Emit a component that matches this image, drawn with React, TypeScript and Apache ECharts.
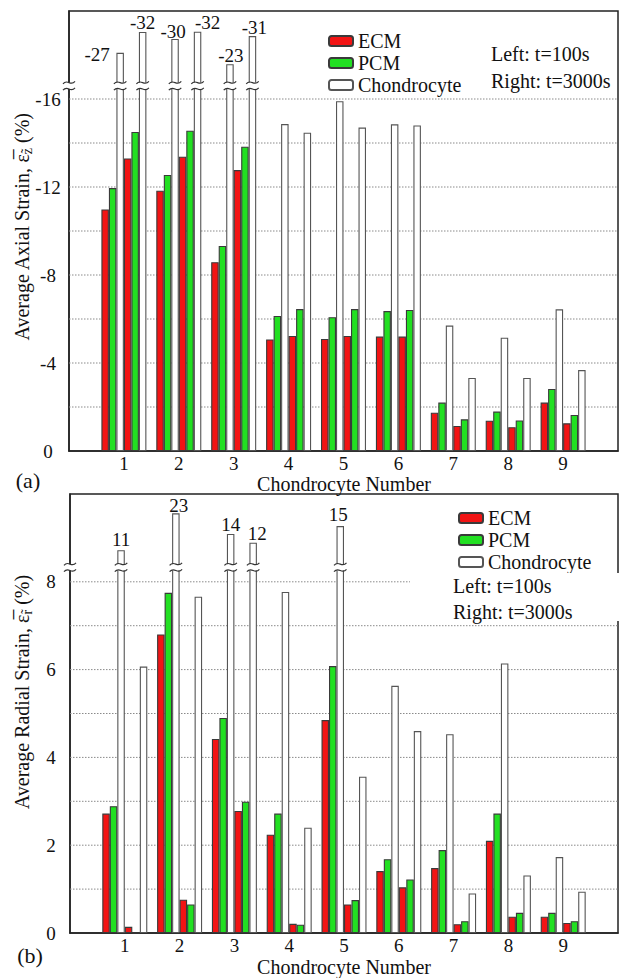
import React, { useEffect, useRef } from 'react';
import * as echarts from 'echarts';

// ---------- data ----------
const categories = [1, 2, 3, 4, 5, 6, 7, 8, 9];
const seriesNames = ['ECM', 'PCM', 'Chondrocyte'];

// (a) Average axial strain (%) — left bars t=100s, right bars t=3000s
const axialECM100 = [-10.98, -11.83, -8.58, -5.07, -5.09, -5.2, -1.74, -1.38, -2.2];
const axialPCM100 = [-11.95, -12.55, -9.32, -6.14, -6.08, -6.36, -2.2, -1.79, -2.82];
const axialChondro100 = [-27, -30, -23, -14.86, -15.9, -14.85, -5.7, -5.15, -6.44];
const axialECM3000 = [-13.3, -13.38, -12.77, -5.23, -5.23, -5.2, -1.14, -1.08, -1.26];
const axialPCM3000 = [-14.5, -14.56, -13.83, -6.45, -6.45, -6.41, -1.44, -1.39, -1.64];
const axialChondro3000 = [-32, -32, -31, -14.47, -14.7, -14.8, -3.32, -3.32, -3.68];
// heights at which the broken (off-scale) bars are drawn, on the axis scale
const axialChondro100Drawn = [-18.1, -18.73, -17.58, null, null, null, null, null, null];
const axialChondro3000Drawn = [-19.05, -19.06, -18.86, null, null, null, null, null, null];
const axialTickLabels = [0, -4, -8, -12, -16];
const axialGridValues = [-2, -4, -6, -8, -10, -12, -14, -16];
const axialBreakAt = -16.6;

// (b) Average radial strain (%)
const radialECM100 = [2.72, 6.8, 4.42, 2.24, 4.85, 1.41, 1.48, 2.1, 0.37];
const radialPCM100 = [2.89, 7.75, 4.9, 2.72, 6.08, 1.68, 1.89, 2.72, 0.46];
const radialChondro100 = [11, 23, 14, 7.77, 15, 5.63, 4.53, 6.14, 1.73];
const radialECM3000 = [0.14, 0.76, 2.78, 0.21, 0.65, 1.04, 0.2, 0.37, 0.23];
const radialPCM3000 = [0, 0.65, 2.99, 0.19, 0.75, 1.22, 0.27, 0.46, 0.27];
const radialChondro3000 = [6.07, 7.66, 12, 2.4, 3.56, 4.6, 0.9, 1.31, 0.94];
const radialChondro100Drawn = [8.72, 9.56, 9.09, null, 9.27, null, null, null, null];
const radialChondro3000Drawn = [null, null, 8.89, null, null, null, null, null, null];
const radialTickLabels = [0, 2, 4, 6, 8];
const radialGridValues = [1, 2, 3, 4, 5, 6, 7, 8];
const radialBreakAt = 8.33;

// ---------- styles ----------
const FONT = '"Liberation Serif", "Times New Roman", serif';
const BW = 7.5;
const X_MAX = 10;
const RED = '#f21414';
const GREEN = '#22e022';
const WHITE = '#ffffff';
const EDGE = '#3a3a3a';
const WHITE_EDGE = '#555555';
const TICK_FS = 19;
const TEXT_FS = 20;

// label nudges for the broken-bar value labels (pixels)
const axialOff100: Record<number, number[]> = { 0: [-23, 14], 1: [-2, 5], 2: [1, 4] };
const axialOff3000: Record<number, number[]> = { 0: [0, 3], 1: [10, 3], 2: [2, 4] };
const radialOff100: Record<number, number[]> = { 0: [0, 2], 1: [3, 5], 2: [0, 3], 4: [-2, 1] };
const radialOff3000: Record<number, number[]> = { 2: [4, 3] };

function barSeries(
  name: string,
  values: number[],
  drawn: (number | null)[] | null,
  color: string,
  border: string,
  grid: number,
  offsets: Record<number, number[]>
) {
  return {
    type: 'bar',
    name,
    xAxisIndex: grid,
    yAxisIndex: grid,
    barWidth: BW,
    barGap: '0%',
    z: 2,
    itemStyle: { color, borderColor: border, borderWidth: 1.1 },
    data: categories.map((c, i) => {
      const d = drawn ? drawn[i] : null;
      if (d == null) return [c, values[i]];
      return {
        value: [c, d],
        label: {
          show: true,
          position: 'top',
          distance: 3,
          formatter: String(values[i]),
          offset: offsets[i] || [0, 0],
          fontSize: TICK_FS,
          fontFamily: FONT,
          color: '#111',
        },
      };
    }),
  };
}

function gridLineSeries(grid: number, values: number[]) {
  return {
    type: 'custom',
    xAxisIndex: grid,
    yAxisIndex: grid,
    z: 1,
    silent: true,
    data: values.map((v) => [0, v]),
    renderItem: (_p: any, api: any) => {
      const a = api.coord([0, api.value(1)]);
      const b = api.coord([X_MAX, api.value(1)]);
      return {
        type: 'line',
        shape: { x1: a[0], y1: a[1], x2: b[0], y2: b[1] },
        style: { stroke: '#8a8a8a', lineWidth: 1, lineDash: [1.5, 1.5] },
      };
    },
  };
}

function breakSeries(grid: number, breakAt: number, d100: (number | null)[], d3000: (number | null)[]) {
  const items: number[][] = [[0, breakAt, -1]];
  categories.forEach((c, i) => {
    if (d100[i] != null) items.push([c, breakAt, 2]);
    if (d3000[i] != null) items.push([c, breakAt, 5]);
  });
  return {
    type: 'custom',
    xAxisIndex: grid,
    yAxisIndex: grid,
    z: 3,
    silent: true,
    data: items,
    renderItem: (_p: any, api: any) => {
      const slot = api.value(2);
      const p = api.coord([api.value(0), api.value(1)]);
      const isAxis = slot < 0;
      const cx = isAxis ? p[0] : p[0] + (slot - 2.5) * BW;
      const hw = isAxis ? 4.5 : BW / 2 + 1;
      const gap = 3.2;
      const curves = [-gap, gap].map((dy) => ({
        type: 'bezierCurve',
        shape: {
          x1: cx - hw - 1.5,
          y1: p[1] + dy + 1.2,
          cpx1: cx - hw * 0.3,
          cpy1: p[1] + dy - 4.5,
          cpx2: cx + hw * 0.3,
          cpy2: p[1] + dy + 4.5,
          x2: cx + hw + 1.5,
          y2: p[1] + dy - 1.2,
        },
        style: { stroke: '#333', lineWidth: 1.2, fill: null },
      }));
      return {
        type: 'group',
        children: [
          {
            type: 'rect',
            shape: { x: cx - hw - 1, y: p[1] - gap, width: 2 * hw + 2, height: 2 * gap },
            style: { fill: '#fff' },
          },
          ...curves,
        ],
      };
    },
  };
}

function xAxisFor(grid: number) {
  return {
    type: 'value',
    gridIndex: grid,
    min: 0,
    max: X_MAX,
    interval: 1,
    axisLine: { show: true, onZero: false, lineStyle: { color: '#222', width: 1.5 } },
    axisTick: { show: false },
    splitLine: { show: false },
    axisLabel: {
      formatter: (v: number) => (categories.includes(v) ? String(v) : ''),
      fontSize: TICK_FS,
      fontFamily: FONT,
      color: '#111',
      margin: 3,
    },
  };
}

function yAxisFor(grid: number, min: number, max: number, interval: number, inverse: boolean, labels: number[], margin: number) {
  return {
    type: 'value',
    gridIndex: grid,
    min,
    max,
    interval,
    inverse,
    axisLine: { show: true, onZero: false, lineStyle: { color: '#222', width: 1.5 } },
    axisTick: { show: false },
    splitLine: { show: false },
    axisLabel: {
      formatter: (v: number) => (labels.includes(v) ? String(v) : ''),
      fontSize: TICK_FS,
      fontFamily: FONT,
      color: '#111',
      align: 'center',
      margin,
    },
  };
}

const legendBase = {
  data: seriesNames,
  orient: 'vertical',
  itemWidth: 24,
  itemHeight: 10,
  itemGap: 2,
  icon: 'roundRect',
  selectedMode: false,
  textStyle: { fontSize: TEXT_FS, fontFamily: FONT, color: '#111' },
};

function txt(text: string, x: number, y: number, size = TEXT_FS, align = 'left', z = 6) {
  return {
    type: 'text',
    x,
    y,
    z,
    style: { text, fontSize: size, fontFamily: FONT, fill: '#111', align, verticalAlign: 'middle' },
  };
}

function yTitle(main: string, sub: string, x: number, y: number) {
  return {
    type: 'text',
    x,
    y,
    z: 6,
    rotation: Math.PI / 2,
    style: {
      text: `{n|${main}}{e|\u03B5\u0305}{s|${sub}\u0303}{n| (%)}`,
      align: 'center',
      verticalAlign: 'middle',
      fontFamily: FONT,
      fill: '#111',
      rich: {
        n: { fontSize: TEXT_FS, fontFamily: FONT, fill: '#111', lineHeight: 24 },
        e: { fontSize: TEXT_FS, fontFamily: FONT, fill: '#111', lineHeight: 24 },
        s: { fontSize: 14, fontFamily: FONT, fill: '#111', lineHeight: 14, verticalAlign: 'bottom' },
      },
    },
  };
}

export default function App() {
  const ref = useRef<HTMLDivElement>(null);
  useEffect(() => {
    if (!ref.current) return;
    const chart = echarts.init(ref.current, null, { renderer: 'svg' });
    const option: any = {
      animation: false,
      backgroundColor: '#fff',
      grid: [
        { left: 69, top: 11, width: 561, height: 440, show: true, borderColor: '#222', borderWidth: 1.5, backgroundColor: 'transparent' },
        { left: 70, top: 494, width: 561, height: 439, show: true, borderColor: '#222', borderWidth: 1.5, backgroundColor: 'transparent' },
      ],
      xAxis: [xAxisFor(0), xAxisFor(1)],
      yAxis: [
        yAxisFor(0, -20, 0, 4, true, axialTickLabels, 21),
        yAxisFor(1, 0, 10, 2, false, radialTickLabels, 19),
      ],
      legend: [
        { ...legendBase, left: 323, top: 26 },
        { ...legendBase, left: 453, top: 503 },
      ],
      series: [
        gridLineSeries(0, axialGridValues),
        barSeries('ECM', axialECM100, null, RED, EDGE, 0, {}),
        barSeries('PCM', axialPCM100, null, GREEN, EDGE, 0, {}),
        barSeries('Chondrocyte', axialChondro100, axialChondro100Drawn, WHITE, WHITE_EDGE, 0, axialOff100),
        barSeries('ECM', axialECM3000, null, RED, EDGE, 0, {}),
        barSeries('PCM', axialPCM3000, null, GREEN, EDGE, 0, {}),
        barSeries('Chondrocyte', axialChondro3000, axialChondro3000Drawn, WHITE, WHITE_EDGE, 0, axialOff3000),
        breakSeries(0, axialBreakAt, axialChondro100Drawn, axialChondro3000Drawn),

        gridLineSeries(1, radialGridValues),
        barSeries('ECM', radialECM100, null, RED, EDGE, 1, {}),
        barSeries('PCM', radialPCM100, null, GREEN, EDGE, 1, {}),
        barSeries('Chondrocyte', radialChondro100, radialChondro100Drawn, WHITE, WHITE_EDGE, 1, radialOff100),
        barSeries('ECM', radialECM3000, null, RED, EDGE, 1, {}),
        barSeries('PCM', radialPCM3000, null, GREEN, EDGE, 1, {}),
        barSeries('Chondrocyte', radialChondro3000, radialChondro3000Drawn, WHITE, WHITE_EDGE, 1, radialOff3000),
        breakSeries(1, radialBreakAt, radialChondro100Drawn, radialChondro3000Drawn),
      ],
      graphic: [
        { type: 'rect', z: 5, shape: { x: 410, y: 573, width: 215, height: 48 }, style: { fill: '#fff' } },
        txt('Left: t=100s', 491, 54),
        txt('Right: t=3000s', 491, 81),
        txt('Left: t=100s', 453, 586),
        txt('Right: t=3000s', 453, 612),
        txt('Chondrocyte Number', 344, 484, TEXT_FS, 'center'),
        txt('Chondrocyte Number', 344, 967, TEXT_FS, 'center'),
        txt('(a)', 28, 480, 22, 'center'),
        txt('(b)', 30, 955, 22, 'center'),
        yTitle('Average Axial Strain, ', 'z', 22, 227),
        yTitle('Average Radial Strain, ', 'r', 22, 692),
      ],
    };
    chart.setOption(option);
    return () => chart.dispose();
  }, []);
  return (
    <div
      ref={ref}
      style={{ position: 'absolute', left: 0, top: 0, width: 621, height: 978 }}
    />
  );
}
